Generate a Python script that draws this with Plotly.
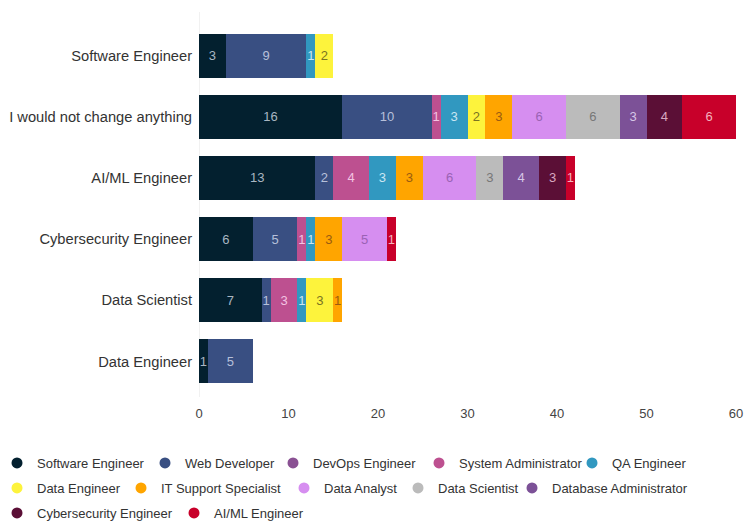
import plotly.graph_objects as go

categories = ["Software Engineer", "I would not change anything", "AI/ML Engineer",
              "Cybersecurity Engineer", "Data Scientist", "Data Engineer"]

series_names = ["Software Engineer", "Web Developer", "DevOps Engineer", "System Administrator",
                "QA Engineer", "Data Engineer", "IT Support Specialist", "Data Analyst",
                "Data Scientist", "Database Administrator", "Cybersecurity Engineer", "AI/ML Engineer"]

software_engineer = [3, 16, 13, 6, 7, 1]
web_developer = [9, 10, 2, 5, 1, 5]
devops_engineer = [0, 0, 0, 0, 0, 0]
system_administrator = [0, 1, 4, 1, 3, 0]
qa_engineer = [1, 3, 3, 1, 1, 0]
data_engineer = [2, 2, 0, 0, 3, 0]
it_support = [0, 3, 3, 3, 1, 0]
data_analyst = [0, 6, 6, 5, 0, 0]
data_scientist = [0, 6, 3, 0, 0, 0]
database_admin = [0, 3, 4, 0, 0, 0]
cybersecurity_engineer = [0, 4, 3, 0, 0, 0]
aiml_engineer = [0, 6, 1, 1, 0, 0]

x_ticks = [0, 10, 20, 30, 40, 50, 60]

values = [software_engineer, web_developer, devops_engineer, system_administrator,
          qa_engineer, data_engineer, it_support, data_analyst, data_scientist,
          database_admin, cybersecurity_engineer, aiml_engineer]

colors = ["#03202f", "#394f82", "#8a5193", "#bd5090", "#3198c0", "#fdf33c",
          "#ffa500", "#d68ef0", "#bbbbbb", "#7c5197", "#5b0f36", "#c8002a"]
text_colors = ["#a9b6c2", "#b6c0da", "#e0c8e8", "#f3c3e2", "#cbe6f2", "#7a7422",
               "#9a5c10", "#9a62b4", "#777777", "#d6c6e6", "#d8a8c0", "#f3b3bd"]

# Page geometry (body margin removed via post_script, so figure starts at 0,0)
W, H = 744, 523
ML, MT = 199, 25                       # plot area left/top in figure px
PW, PH = 537, 367                      # plot area size
MR = W - ML - PW
MB = H - MT - PH

# legend entry positions: marker centre (px) and row centre (px)
legend_marker_x = [18, 166, 294, 440, 593, 18, 142, 305, 419, 533, 18, 195]
legend_row_y = [463] * 5 + [488] * 5 + [513] * 2
MARKER_OFFSET = 21


def paper_x(px):
    return (px - ML) / PW


def paper_y(py):
    return (MT + PH - py) / PH


fig = go.Figure()
layout_legends = {}
for i, (name, vals, col, tcol) in enumerate(zip(series_names, values, colors, text_colors)):
    lg = "legend" if i == 0 else f"legend{i + 1}"
    txt = [str(v) if v else "" for v in vals]
    fig.add_trace(go.Bar(
        y=categories, x=vals, name=name, orientation="h",
        marker=dict(color=col, line=dict(width=0)),
        text=txt, textposition="inside", insidetextanchor="middle", textangle=0,
        textfont=dict(color=tcol, size=13, family="Liberation Sans"),
        showlegend=False, hoverinfo="x+name",
    ))
    fig.add_trace(go.Scatter(
        x=[None], y=[None], mode="markers", name=name,
        marker=dict(color=col, size=11, symbol="circle"),
        showlegend=True, legend=lg,
    ))
    layout_legends[lg] = dict(
        orientation="h", xanchor="left", yanchor="middle",
        x=paper_x(legend_marker_x[i] - MARKER_OFFSET), y=paper_y(legend_row_y[i]),
        font=dict(size=13, color="#333333", family="Liberation Sans"),
        itemwidth=30, bgcolor="rgba(0,0,0,0)",
    )

fig.update_layout(
    barmode="stack",
    bargap=0.28,
    width=W, height=H,
    margin=dict(l=ML, r=MR, t=MT, b=MB, autoexpand=False),
    paper_bgcolor="white", plot_bgcolor="white",
    font=dict(family="Liberation Sans", color="#333333", size=13),
    uniformtext=dict(minsize=13, mode="show"),
    xaxis=dict(range=[0, 60], tickvals=x_ticks, showgrid=False,
               zeroline=False, showline=False, tickfont=dict(size=13, color="#444444"),
               ticks="outside", ticklen=9, tickcolor="rgba(0,0,0,0)", automargin=False,
               ticklabeloverflow="allow"),
    yaxis=dict(categoryorder="array", categoryarray=categories, autorange="reversed",
               showline=False, showgrid=False, automargin=False,
               ticks="outside", ticklen=3, tickcolor="rgba(0,0,0,0)",
               tickfont=dict(size=14.7, color="#333333")),
    shapes=[dict(type="line", xref="x", yref="paper", x0=0, x1=0,
                 y0=paper_y(397), y1=paper_y(12),
                 line=dict(color="#e3e3e3", width=1), layer="below")],
    **layout_legends,
)

fig.write_html(
    "out.html",
    config={"displayModeBar": False},
    post_script=("document.body.style.margin='0';"
                 "document.body.style.overflow='hidden';"
                 "document.documentElement.style.overflow='hidden';"),
)
